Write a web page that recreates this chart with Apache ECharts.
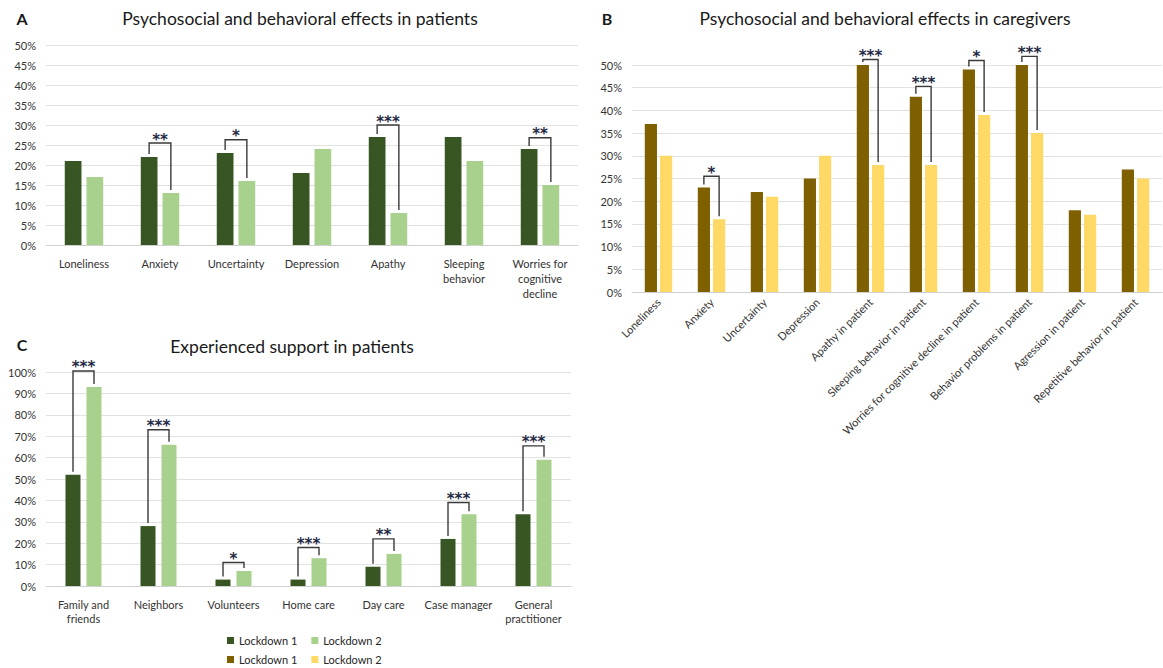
<!DOCTYPE html>
<html>
<head>
<meta charset="utf-8">
<title>Psychosocial and behavioral effects and experienced support</title>
<script src="https://cdn.jsdelivr.net/npm/echarts@6/dist/echarts.min.js"></script>
<style>
  html, body { margin: 0; padding: 0; background: #ffffff; }
  #chart { width: 1163px; height: 668px; }
</style>
</head>
<body>
<div id="chart"></div>
<script>
// ---- Panel A: psychosocial and behavioral effects in patients ----
var catsA = ['Loneliness', 'Anxiety', 'Uncertainty', 'Depression', 'Apathy',
  'Sleeping\nbehavior', 'Worries for\ncognitive\ndecline'];
var patientsL1 = [21, 22, 23, 18, 27, 27, 24];
var patientsL2 = [17, 13, 16, 24, 8, 21, 15];
// significance brackets: [category index, bracket level (%), stars]
var sigA = [[1, 25.5, '**'], [2, 26.3, '*'], [4, 30, '***'], [6, 26.8, '**']];

// ---- Panel B: psychosocial and behavioral effects in caregivers ----
var catsB = ['Loneliness', 'Anxiety', 'Uncertainty', 'Depression', 'Apathy in patient',
  'Sleeping behavior in patient', 'Worries for cognitive decline in patient',
  'Behavior problems in patient', 'Agression in patient', 'Repetitive behavior in patient'];
var caregiversL1 = [37, 23, 22, 25, 50, 43, 49, 50, 18, 27];
var caregiversL2 = [30, 16, 21, 30, 28, 28, 39, 35, 17, 25];
var sigB = [[1, 25.5, '*'], [4, 51.2, '***'], [5, 45.3, '***'], [6, 51, '*'], [7, 51.9, '***']];

// ---- Panel C: experienced support in patients ----
var catsC = ['Family and\nfriends', 'Neighbors', 'Volunteers', 'Home care', 'Day care',
  'Case manager', 'General\npractitioner'];
var supportL1 = [52, 28, 3, 3, 9, 22, 33.5];
var supportL2 = [93, 66, 7, 13, 15, 33.5, 59];
var sigC = [[0, 100.5, '***'], [1, 73, '***'], [2, 11, '*'], [3, 18, '***'],
  [4, 22, '**'], [5, 39, '***'], [6, 65.5, '***']];

var ticksA = { min: 0, max: 50, interval: 5 };
var ticksB = { min: 0, max: 50, interval: 5 };
var ticksC = { min: 0, max: 100, interval: 10 };

var GREEN_DARK = '#375623', GREEN_LIGHT = '#A9D18E';
var BROWN = '#7F6000', YELLOW = '#FFD966';
var FONT = 'Lato, "Open Sans", sans-serif';

function yAxis(gridIndex, t) {
  return {
    type: 'value', gridIndex: gridIndex, min: t.min, max: t.max, interval: t.interval,
    axisLine: { show: false }, axisTick: { show: false },
    axisLabel: { formatter: '{value}%', color: '#333333', fontSize: 11, fontFamily: FONT, margin: 10 },
    splitLine: { lineStyle: { color: '#e2e2e2', width: 1 } }
  };
}

function xAxis(gridIndex, cats, extra) {
  var ax = {
    type: 'category', gridIndex: gridIndex, data: cats,
    axisLine: { lineStyle: { color: '#d0d0d0' } }, axisTick: { show: false },
    axisLabel: { color: '#333333', fontSize: 11, fontFamily: FONT, margin: 11, lineHeight: 15, interval: 0 }
  };
  if (extra) Object.assign(ax.axisLabel, extra);
  return ax;
}

function bars(name, gridIndex, values, color, width, gap) {
  return {
    name: name, type: 'bar', xAxisIndex: gridIndex, yAxisIndex: gridIndex,
    data: values, barWidth: width, barGap: gap,
    itemStyle: { color: color }, silent: true
  };
}

// Bracket joining the two bars of a category, with the significance stars above it.
function brackets(gridIndex, sig, a, b, widthPct, gapPct) {
  return {
    type: 'custom', xAxisIndex: gridIndex, yAxisIndex: gridIndex, silent: true, z: 5,
    data: sig.map(function (s) { return [s[0], s[1]]; }),
    encode: { x: 0, y: 1 },
    renderItem: function (params, api) {
      var i = api.value(0);
      var top = api.coord([i, api.value(1)]);
      var band = api.size([1, 0])[0];
      var bw = band * widthPct;
      var off = (bw + bw * gapPct) / 2;
      var x1 = top[0] - off, x2 = top[0] + off, yt = top[1];
      var y1 = api.coord([i, a[i]])[1] - 3;
      var y2 = api.coord([i, b[i]])[1] - 3;
      return {
        type: 'group',
        children: [
          { type: 'polyline', shape: { points: [[x1, y1], [x1, yt], [x2, yt], [x2, y2]] },
            style: { stroke: '#3a3a3a', lineWidth: 1.4, fill: null } },
          { type: 'text', x: (x1 + x2) / 2, y: yt + 4,
            style: { text: sig[params.dataIndex][2], fill: '#1f2a44', fontSize: 15, fontWeight: 'bold',
              fontFamily: 'DejaVu Sans, sans-serif', align: 'center', verticalAlign: 'bottom' } }
        ]
      };
    }
  };
}

function label(text, x, y, size, weight, align) {
  return { type: 'text', x: x, y: y,
    style: { text: text, fill: '#1a1a1a', fontSize: size, fontWeight: weight || 'normal',
      fontFamily: FONT, align: align || 'center', verticalAlign: 'middle' } };
}

var legendNames = {
  'Lockdown 1': 'Lockdown 1', 'Lockdown 2': 'Lockdown 2',
  'Caregivers, lockdown 1': 'Lockdown 1', 'Caregivers, lockdown 2': 'Lockdown 2'
};

var chart = echarts.init(document.getElementById('chart'), null, { renderer: 'svg' });
chart.setOption({
  backgroundColor: '#ffffff',
  animation: false,
  textStyle: { fontFamily: FONT },
  grid: [
    { left: 46, top: 45, width: 532, height: 200 },
    { left: 632, top: 65, width: 530, height: 227 },
    { left: 46, top: 372, width: 525, height: 214 }
  ],
  xAxis: [
    xAxis(0, catsA),
    xAxis(1, catsB, { rotate: 45, margin: 8 }),
    xAxis(2, catsC, { lineHeight: 14 })
  ],
  yAxis: [yAxis(0, ticksA), yAxis(1, ticksB), yAxis(2, ticksC)],
  legend: [
    { left: 227, top: 635, itemWidth: 7, itemHeight: 7, itemGap: 14, padding: 0,
      icon: 'rect', data: ['Lockdown 1', 'Lockdown 2'],
      textStyle: { fontSize: 11, color: '#262626', fontFamily: FONT } },
    { left: 227, top: 654, itemWidth: 7, itemHeight: 7, itemGap: 14, padding: 0,
      icon: 'rect', data: ['Caregivers, lockdown 1', 'Caregivers, lockdown 2'],
      formatter: function (n) { return legendNames[n]; },
      textStyle: { fontSize: 11, color: '#262626', fontFamily: FONT } }
  ],
  graphic: [
    label('A', 22, 18, 16, 'bold'),
    label('Psychosocial and behavioral effects in patients', 300, 18, 17.5),
    label('B', 607, 18, 16, 'bold'),
    label('Psychosocial and behavioral effects in caregivers', 885, 18, 17.5),
    label('C', 22, 344, 16, 'bold'),
    label('Experienced support in patients', 292, 346, 17.5)
  ],
  series: [
    bars('Lockdown 1', 0, patientsL1, GREEN_DARK, '22%', '30%'),
    bars('Lockdown 2', 0, patientsL2, GREEN_LIGHT, '22%', '30%'),
    brackets(0, sigA, patientsL1, patientsL2, 0.22, 0.30),
    bars('Caregivers, lockdown 1', 1, caregiversL1, BROWN, '23%', '25%'),
    bars('Caregivers, lockdown 2', 1, caregiversL2, YELLOW, '23%', '25%'),
    brackets(1, sigB, caregiversL1, caregiversL2, 0.23, 0.25),
    bars('Lockdown 1', 2, supportL1, GREEN_DARK, '20%', '40%'),
    bars('Lockdown 2', 2, supportL2, GREEN_LIGHT, '20%', '40%'),
    brackets(2, sigC, supportL1, supportL2, 0.20, 0.40)
  ]
});
</script>
</body>
</html>
